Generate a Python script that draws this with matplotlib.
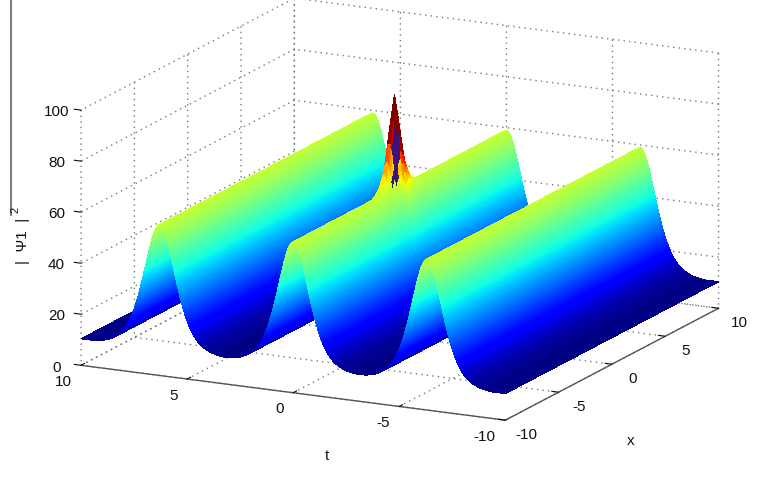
import numpy as np
import matplotlib
matplotlib.use("Agg")
import matplotlib.pyplot as plt
from matplotlib.lines import Line2D
from matplotlib import colors

plt.rcParams['font.family'] = ['Liberation Sans', 'DejaVu Sans']
plt.rcParams['axes.unicode_minus'] = False

#Half of one soliton hump: distance of t from the crest and the height read there
hump_d = [0.0, 0.05, 0.1, 0.15, 0.2, 0.25, 0.3, 0.325, 0.35, 0.375, 0.4, 0.425, 0.45, 0.475, 0.5,
          0.525, 0.55, 0.575, 0.6, 0.625, 0.65, 0.675, 0.7, 0.725, 0.75, 0.775, 0.8, 0.825, 0.85,
          0.875, 0.9, 0.925, 0.95, 0.975, 1.0, 1.025, 1.05, 1.075, 1.1, 1.125, 1.15, 1.175, 1.2,
          1.225, 1.25, 1.275, 1.3, 1.325, 1.35, 1.375, 1.4, 1.425, 1.45, 1.475, 1.5, 1.525, 1.55,
          1.575, 1.6, 1.65, 1.7, 1.75, 1.8, 1.85, 1.9, 1.95, 2.0,
          2.1, 2.2, 2.3, 2.4, 2.5, 2.6, 2.7, 2.8, 2.9, 3.0, 3.1]
hump_z = [59.0, 58.9, 58.5, 57.9, 57.1, 56.1, 54.8, 54.2, 53.5, 52.7, 51.9, 51.1, 50.3, 49.4, 48.5,
          47.6, 46.7, 45.8, 44.8, 43.9, 43.0, 42.1, 41.1, 40.2, 39.2, 38.3, 37.4, 36.5, 35.6,
          34.7, 33.9, 33.0, 32.2, 31.4, 30.6, 29.8, 29.0, 28.3, 27.6, 26.9, 26.2, 25.5, 24.9,
          24.3, 23.7, 23.1, 22.6, 22.1, 21.6, 21.1, 20.6, 20.1, 19.7, 19.3, 18.9, 18.5, 18.1,
          17.7, 17.4, 16.7, 16.2, 15.6, 15.1, 14.6, 14.3, 13.8, 13.5,
          12.9, 12.4, 12.0, 11.6, 11.3, 11.1, 10.9, 10.7, 10.6, 10.5, 10.4]
crest_t = [-6.3, 0.0, 6.3]
edge_t = [-10.0, 10.0]
edge_z = 10.4

#Narrow peak on the middle hump near t=0,x=-0.5, as a share of its extra height
peak_extra = 37.0
peak_center_x = -0.5
peak_t = [0.0, 0.05, 0.1, 0.15, 0.2, 0.25, 0.3, 0.325, 0.35, 0.375, 0.4, 0.425, 0.45, 0.475, 0.5,
          0.525, 0.55, 0.575, 0.6, 0.625, 0.65, 0.675, 0.7, 0.725, 0.75, 0.775, 0.8, 0.825, 0.85, 0.875, 0.9]
peak_t_share = [1.0, 0.93, 0.85, 0.70, 0.55, 0.43, 0.32, 0.285, 0.25, 0.225, 0.2, 0.18, 0.16, 0.145, 0.13,
                0.115, 0.10, 0.09, 0.08, 0.072, 0.065, 0.057, 0.05, 0.045, 0.04, 0.035, 0.03, 0.025, 0.02, 0.017, 0.015]
peak_x = [0.0, 0.25, 0.5, 0.75, 1.0, 1.25, 1.5, 1.75, 2.0]
peak_x_share = [1.0, 0.8, 0.55, 0.33, 0.2, 0.11, 0.05, 0.02, 0.0]
#The dark band down the front of the peak
stripe_color = '#3c1478'

t_ticks = [-10, -5, 0, 5, 10]
x_ticks = [-10, -5, 0, 5, 10]
z_ticks = [0, 20, 40, 60, 80, 100]

#Build the surface from the tables above
half_d = np.array(hump_d)
half_z = np.array(hump_z)
offs = np.concatenate((-half_d[:0:-1], half_d))
prof = np.concatenate((half_z[:0:-1], half_z))
t_all = np.round(np.concatenate([c+offs for c in crest_t]+[edge_t]), 3)
z_all = np.concatenate([prof for c in crest_t]+[[edge_z, edge_z]])
t_vals, idx = np.unique(t_all, return_index=True)
z_vals = z_all[idx]

px = np.array(peak_x)
x_vals = np.unique(np.concatenate((np.arange(-10, 11, 1.0), peak_center_x+px, peak_center_x-px)))
Z = np.tile(z_vals, (len(x_vals), 1))
for i, x in enumerate(x_vals):
    dx = abs(x-peak_center_x)
    if dx not in peak_x:
        continue
    share_x = peak_x_share[peak_x.index(dx)]
    for j, t in enumerate(t_vals):
        if abs(t) in peak_t:
            Z[i, j] += peak_extra*peak_t_share[peak_t.index(abs(t))]*share_x
T, X = np.meshgrid(t_vals, x_vals)

#Colour by height, the peak runs to dark red sooner than its height alone gives
C = Z+0.7*np.clip(Z-59, 0, None)
norm = colors.Normalize(10, 93)
rgba = plt.get_cmap('jet')(norm(C))
for i, x in enumerate(x_vals):
    for j, t in enumerate(t_vals):
        #Cells that line up in one screen column under the crest
        if t <= 0 and x <= peak_center_x and abs(2*t-(x-peak_center_x)) < 0.3 and 60 < Z[i, j] < 78:
            rgba[i, j] = colors.to_rgba(stripe_color)

fig = plt.figure(figsize=(7.64, 4.88), dpi=100)
#Square axes centred on the middle of the box, it runs off the top of the figure
size = 1.0
ax = fig.add_axes([389.5/764-size/2, (488-219.5)/488-size*764/488/2, size, size*764/488], projection='3d', proj_type='ortho')
ax.view_init(elev=15.1, azim=-63.6)
ax.set_box_aspect((473, 479, 264), zoom=0.92)
ax.patch.set_alpha(0)

surf = ax.plot_surface(T, X, Z, rstride=1, cstride=1, facecolors=rgba,
                       linewidth=0, edgecolor='none', antialiased=False, shade=False)

ax.set_xlim(10, -10)
ax.set_ylim(-10, 10)
ax.set_zlim(0, 100)
ax.set_xticks(t_ticks)
ax.set_yticks(x_ticks)
ax.set_zticks(z_ticks)

for axis in [ax.xaxis, ax.yaxis, ax.zaxis]:
    axis.pane.set_visible(False)
    axis.line.set_color('#555555')
    axis.line.set_linewidth(1.0)
    axis._axinfo['grid'].update(color='#777777', linestyle=(0, (1, 3)), linewidth=1.0)
    axis._axinfo['tick'].update(inward_factor=0.0, outward_factor=0.2)
#Put the z axis on the left edge like the original, ticks only there
ax.zaxis._axinfo['juggled'] = (1, 2, 0)
ax.zaxis.line.set_color((0, 0, 0, 0))
ax.tick_params(labelsize=11, colors='#111111')
ax.xaxis.set_tick_params(pad=5)
ax.yaxis.set_tick_params(pad=6)
ax.zaxis.set_tick_params(pad=3)
for label in ax.get_xticklabels()+ax.get_yticklabels()+ax.get_zticklabels():
    label.set_va('center')
for label in ax.get_xticklabels():
    label.set_ha('right')

fig.text(327/764, 1-456/488, 't', fontsize=11, ha='center', va='center', color='#111111')
fig.text(631/764, 1-441/488, 'x', fontsize=11, ha='center', va='center', color='#111111')
fig.text(23/764, 1-241/488, '|  \u03a81  |', fontsize=11, rotation=90, ha='center', va='center', color='#111111')
fig.text(15/764, 1-210/488, '2', fontsize=8, rotation=90, ha='center', va='center', color='#111111')

#Stray rule left at the edge of the scan
fig.add_artist(Line2D([11/764, 11/764], [1-215/488, 1], color='#808080', lw=1.5))

fig.savefig('out.png', dpi=100)
